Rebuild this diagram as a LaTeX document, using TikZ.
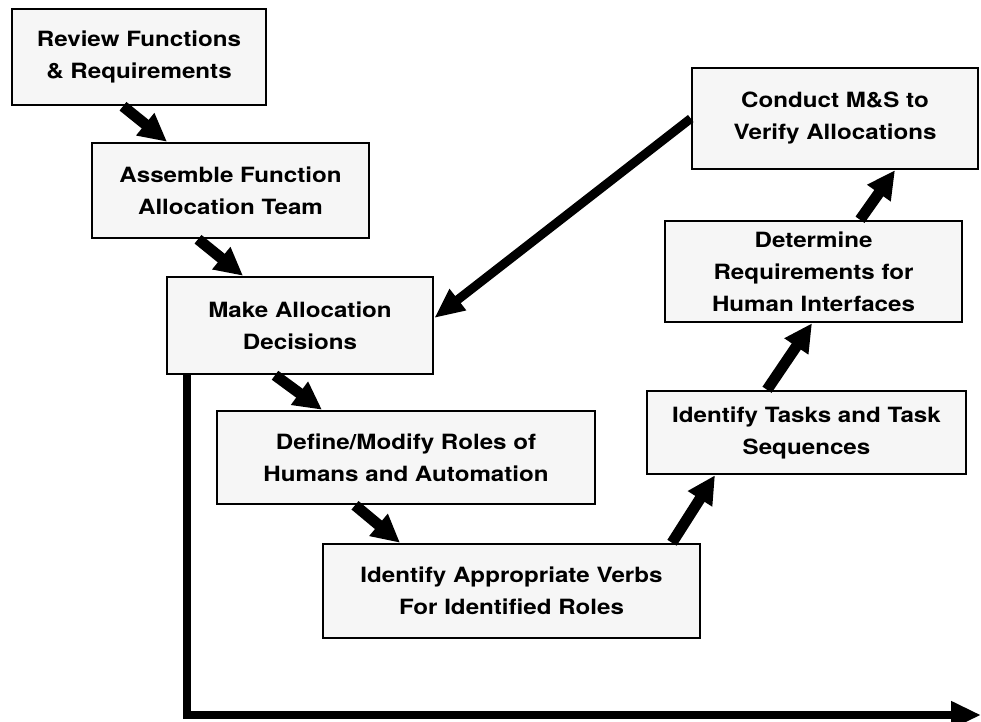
\documentclass[tikz,border=0pt]{standalone}
\usepackage{fontspec}
\setmainfont{TeX Gyre Heros}[FakeStretch=1.15]
\usetikzlibrary{arrows.meta,positioning}
\tikzset{
flowchart/.style={x=1pt,y=-1pt,
    font=\fontsize{21}{32}\selectfont\bfseries},
stage/.style={rectangle,draw,line width=2.5pt,fill=gray!7,align=center,
    inner sep=0pt},
flow/.style={line width=11pt,-{Triangle[length=28pt,width=27pt]}},
feedback/.style={line width=9pt,-{Triangle[length=30pt,width=25pt]}},
timeline/.style={line width=7.5pt,-{Triangle[length=30pt,width=26pt]}},
}
\begin{document}
\begin{tikzpicture}[flowchart]
    \useasboundingbox (0,0) rectangle (981,721);

    \node[stage,minimum width=254,minimum height=96] (review) at (139,57)
        {Review Functions\\ \& Requirements};
    \node[stage,minimum width=277,minimum height=95] (assemble) at (230.5,190.5)
        {Assemble Function\\ Allocation Team};
    \node[stage,minimum width=266,minimum height=97] (decide) at (300,325.5)
        {Make Allocation\\ Decisions};
    \node[stage,minimum width=378,minimum height=93] (define) at (406,457.5)
        {Define/Modify Roles of\\ Humans and Automation};
    \node[stage,minimum width=377,minimum height=94] (verbs) at (511.5,591)
        {Identify Appropriate Verbs\\ For Identified Roles};
    \node[stage,minimum width=319,minimum height=83] (tasks) at (806.5,432.5)
        {Identify Tasks and Task\\ Sequences};
    \node[stage,minimum width=297,minimum height=101] (interfaces) at (813.5,271.5)
        {Determine\\ Requirements for\\ Human Interfaces};
    \node[stage,minimum width=286,minimum height=101] (conduct) at (835,118.5)
        {Conduct M\&S to\\ Verify Allocations};

    \coordinate (origin) at (187,715);
    \coordinate (axisend) at (981,715);

    % steps down the V
    \draw[flow] ([xshift=-16pt]review.south) -- ([xshift=-63.5pt]assemble.north);
    \draw[flow] ([xshift=-32.5pt]assemble.south) -- ([xshift=-57pt]decide.north);
    \draw[flow] ([xshift=-25pt]decide.south) -- ([xshift=-84pt]define.north);
    \draw[flow] ([xshift=-51pt]define.south) -- ([xshift=-111.5pt]verbs.north);
    % steps up the V
    \draw[flow] ([xshift=160.5pt]verbs.north) -- ([xshift=-91.5pt]tasks.south);
    \draw[flow] ([xshift=-39.5pt]tasks.north) -- ([xshift=-1.5pt]interfaces.south);
    \draw[flow] ([xshift=46.5pt]interfaces.north) -- ([xshift=60pt]conduct.south);

    \draw[feedback] (conduct.west) -- ([yshift=7.5pt]decide.east);
    \draw[timeline] (origin |- decide.south) -- (origin) -- (axisend);
\end{tikzpicture}
\end{document}
